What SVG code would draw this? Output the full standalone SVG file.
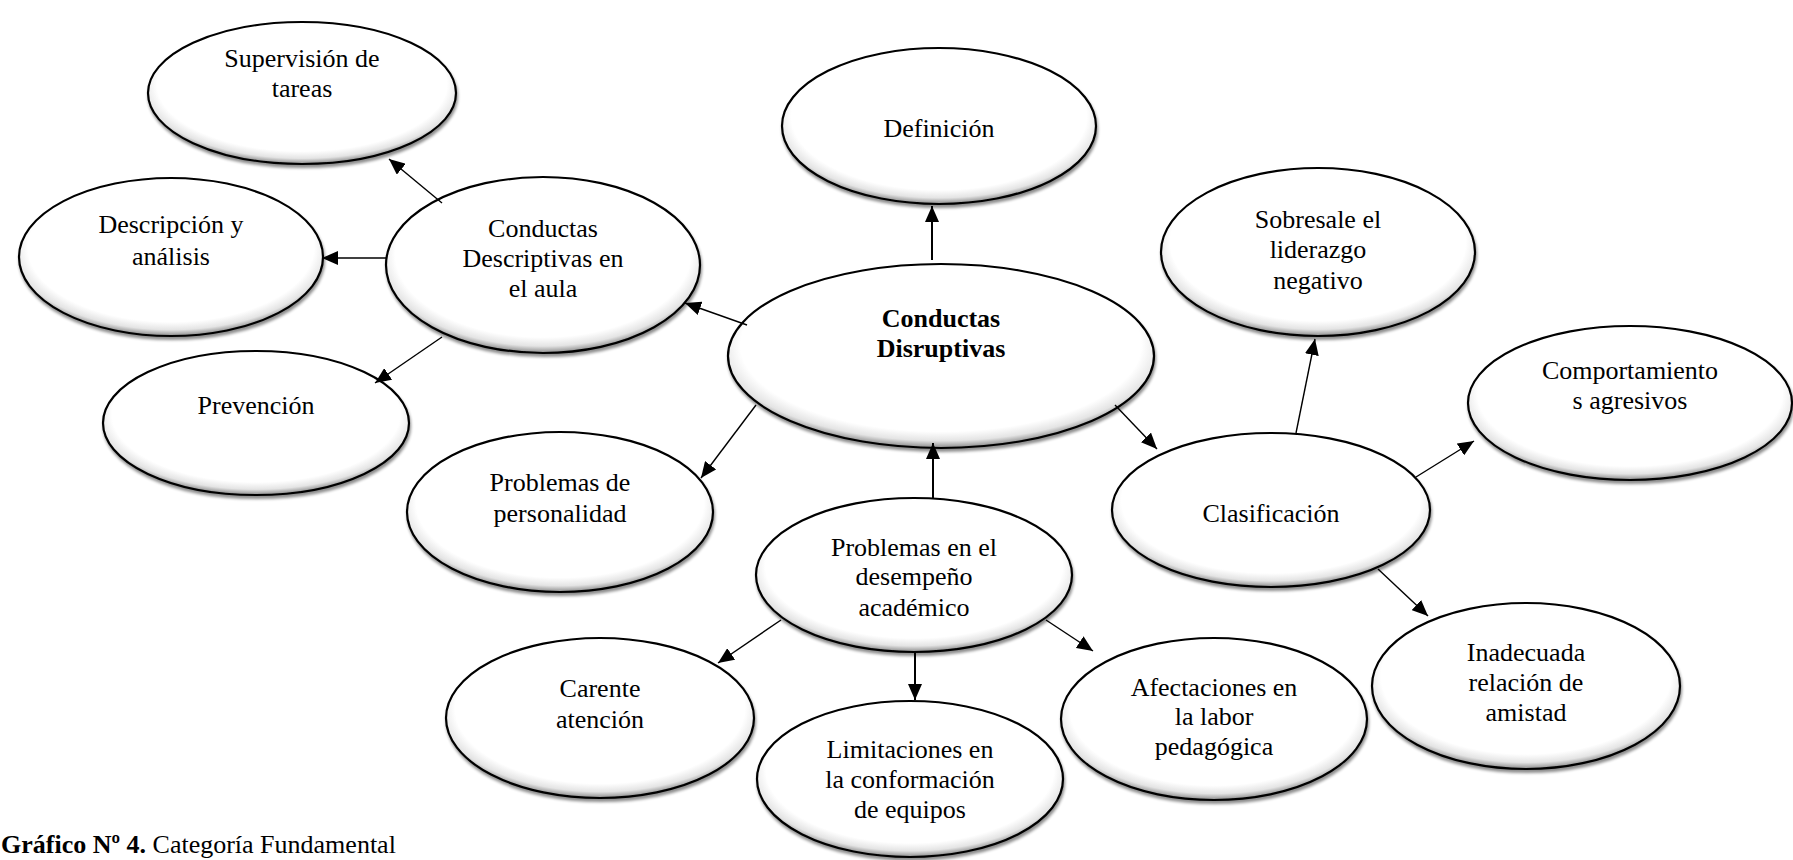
<svg xmlns="http://www.w3.org/2000/svg" width="1793" height="860" viewBox="0 0 1793 860">
<style>
.n{fill:url(#sh);stroke:#000;stroke-width:2.2;filter:url(#ds)}
.t{font-family:"Liberation Serif","Times New Roman",serif;font-size:26px;fill:#000;text-anchor:middle}
.b{font-weight:bold}
.c{stroke:#000;stroke-width:1.4;fill:none;marker-end:url(#ah)}
.c2{stroke-width:2}
.cap{font-family:"Liberation Serif","Times New Roman",serif;font-size:26px;fill:#000}
</style>
<defs>
<radialGradient id="sh" cx="0.5" cy="0.44" r="0.56">
<stop offset="0" stop-color="#fff"/>
<stop offset="0.84" stop-color="#fff"/>
<stop offset="0.93" stop-color="#e4e4e4"/>
<stop offset="1" stop-color="#8a8a8a"/>
</radialGradient>
<filter id="ds" x="-10%" y="-10%" width="120%" height="125%">
<feGaussianBlur in="SourceAlpha" stdDeviation="1.6"/>
<feOffset dx="1" dy="3" result="o"/>
<feComponentTransfer><feFuncA type="linear" slope="0.45"/></feComponentTransfer>
<feMerge><feMergeNode/><feMergeNode in="SourceGraphic"/></feMerge>
</filter>
<marker id="ah" markerUnits="userSpaceOnUse" markerWidth="16" markerHeight="14" refX="16" refY="7" orient="auto">
<path d="M0,0 L16,7 L0,14 z" fill="#000"/>
</marker>
</defs>
<rect width="1793" height="860" fill="#fff"/>

<g id="n-supervision"><ellipse class="n" cx="302" cy="93" rx="154" ry="71"/>
<text class="t" x="302" y="67">Supervisión de</text><text class="t" x="302" y="97">tareas</text></g>
<g id="n-descripcion"><ellipse class="n" cx="171" cy="257" rx="152" ry="79"/>
<text class="t" x="171" y="233">Descripción y</text><text class="t" x="171" y="265">análisis</text></g>
<g id="n-conductas-desc"><ellipse class="n" cx="543" cy="265" rx="157" ry="88"/>
<text class="t" x="543" y="237">Conductas</text><text class="t" x="543" y="267">Descriptivas en</text><text class="t" x="543" y="297">el aula</text></g>
<g id="n-prevencion"><ellipse class="n" cx="256" cy="423" rx="153" ry="72"/>
<text class="t" x="256" y="414">Prevención</text></g>
<g id="n-definicion"><ellipse class="n" cx="939" cy="126" rx="157" ry="78"/>
<text class="t" x="939" y="137">Definición</text></g>
<g id="n-central"><ellipse class="n" cx="941" cy="356" rx="213" ry="92"/>
<text class="t b" x="941" y="327">Conductas</text><text class="t b" x="941" y="357">Disruptivas</text></g>
<g id="n-sobresale"><ellipse class="n" cx="1318" cy="252" rx="157" ry="84"/>
<text class="t" x="1318" y="228">Sobresale el</text><text class="t" x="1318" y="258">liderazgo</text><text class="t" x="1318" y="289">negativo</text></g>
<g id="n-comportamiento"><ellipse class="n" cx="1630" cy="403" rx="162" ry="77"/>
<text class="t" x="1630" y="379">Comportamiento</text><text class="t" x="1630" y="409">s agresivos</text></g>
<g id="n-clasificacion"><ellipse class="n" cx="1271" cy="510" rx="159" ry="77"/>
<text class="t" x="1271" y="522">Clasificación</text></g>
<g id="n-personalidad"><ellipse class="n" cx="560" cy="512" rx="153" ry="80"/>
<text class="t" x="560" y="491">Problemas de</text><text class="t" x="560" y="522">personalidad</text></g>
<g id="n-desempeno"><ellipse class="n" cx="914" cy="575" rx="158" ry="77"/>
<text class="t" x="914" y="556">Problemas en el</text><text class="t" x="914" y="585">desempeño</text><text class="t" x="914" y="616">académico</text></g>
<g id="n-carente"><ellipse class="n" cx="600" cy="718" rx="154" ry="80"/>
<text class="t" x="600" y="697">Carente</text><text class="t" x="600" y="728">atención</text></g>
<g id="n-limitaciones"><ellipse class="n" cx="910" cy="779" rx="153" ry="78"/>
<text class="t" x="910" y="758">Limitaciones en</text><text class="t" x="910" y="788">la conformación</text><text class="t" x="910" y="818">de equipos</text></g>
<g id="n-afectaciones"><ellipse class="n" cx="1214" cy="719" rx="153" ry="81"/>
<text class="t" x="1214" y="696">Afectaciones en</text><text class="t" x="1214" y="725">la labor</text><text class="t" x="1214" y="755">pedagógica</text></g>
<g id="n-inadecuada"><ellipse class="n" cx="1526" cy="686" rx="154" ry="83"/>
<text class="t" x="1526" y="661">Inadecuada</text><text class="t" x="1526" y="691">relación de</text><text class="t" x="1526" y="721">amistad</text></g>

<g id="connectors">
<line class="c" x1="442" y1="203" x2="389" y2="159"/>
<line class="c" x1="386" y1="258" x2="322" y2="258"/>
<line class="c" x1="442" y1="337" x2="375" y2="383"/>
<line class="c" x1="747" y1="325" x2="685" y2="303"/>
<line class="c c2" x1="932" y1="260" x2="932" y2="206"/>
<line class="c" x1="756" y1="405" x2="701" y2="478"/>
<line class="c" x1="1115" y1="405" x2="1157" y2="449"/>
<line class="c c2" x1="933" y1="498" x2="933" y2="443"/>
<line class="c" x1="1296" y1="433" x2="1315" y2="339"/>
<line class="c" x1="1416" y1="477" x2="1474" y2="441"/>
<line class="c" x1="1378" y1="569" x2="1428" y2="616"/>
<line class="c" x1="781" y1="620" x2="718" y2="663"/>
<line class="c c2" x1="915" y1="653" x2="915" y2="700"/>
<line class="c" x1="1046" y1="620" x2="1093" y2="651"/>
</g>

<text class="cap" x="1" y="853"><tspan font-weight="bold">Gráfico Nº 4.</tspan> Categoría Fundamental</text>
</svg>
